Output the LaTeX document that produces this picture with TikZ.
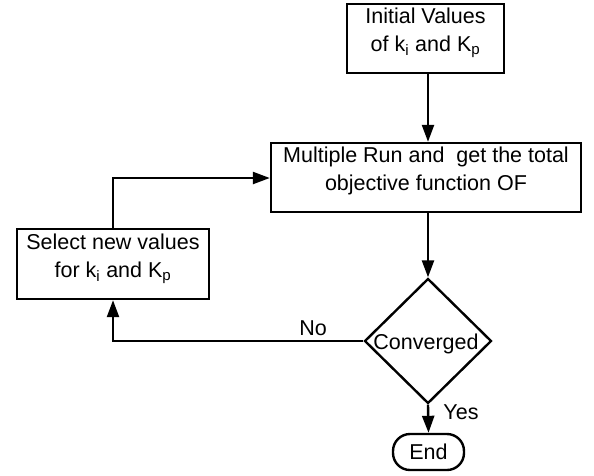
\documentclass[tikz,border=0pt]{standalone}
\usepackage{fontspec}
\setmainfont{Liberation Sans}
\usetikzlibrary{shapes.geometric,arrows.meta}
\begin{document}
\begin{tikzpicture}[x=1pt,y=-1pt,
  every node/.style={font=\fontsize{21.5}{28}\selectfont},
  box/.style={draw,line width=2.4pt,inner sep=0pt},
  txt/.style={inner sep=0pt,align=center},
  arr/.style={line width=2.4pt,-{Triangle[length=17pt,width=12pt]}},
  ln/.style={line width=2.4pt}]
\useasboundingbox (0,0) rectangle (594,475);
\node[box,minimum width=157pt,minimum height=69pt] (top) at (425.5,38.5) {};
\node[txt] (topt) at (425.5,33) {Initial Values\\of k\textsubscript{i} and K\textsubscript{p}};
\node[box,minimum width=310pt,minimum height=69pt] (main) at (426,177.5) {};
\node[txt] (maint) at (426,171) {Multiple Run and\ \ get the total\\objective function OF};
\node[box,minimum width=192pt,minimum height=70pt] (sel) at (113,264) {};
\node[txt] (selt) at (113,259) {Select new values\\for k\textsubscript{i} and K\textsubscript{p}};
\node[draw,line width=2.4pt,diamond,inner sep=0pt,minimum width=127pt,minimum height=125pt] (conv) at (428,341) {};
\node[inner sep=0pt] (convt) at (426,344) {Converged};
\node[draw,line width=2.4pt,rounded corners=17pt,minimum width=71pt,minimum height=36pt,inner sep=0pt] (end) at (428.5,452) {End};
\coordinate (j) at (113,178);
\draw[arr] (top.south -| conv.north) -- (main.north -| conv.north);
\draw[arr] (main.south -| conv.north) -- (conv.north);
\draw[arr] (conv.south) -- (end.north);
\draw[arr] (conv.west) -- (conv.west -| j) -- (sel.south -| j);
\draw[arr] (sel.north -| j) -- (j) -- (j -| main.west);
\node (no) at (313,328) {No};
\node (yes) at (461,412) {Yes};
\end{tikzpicture}
\end{document}
